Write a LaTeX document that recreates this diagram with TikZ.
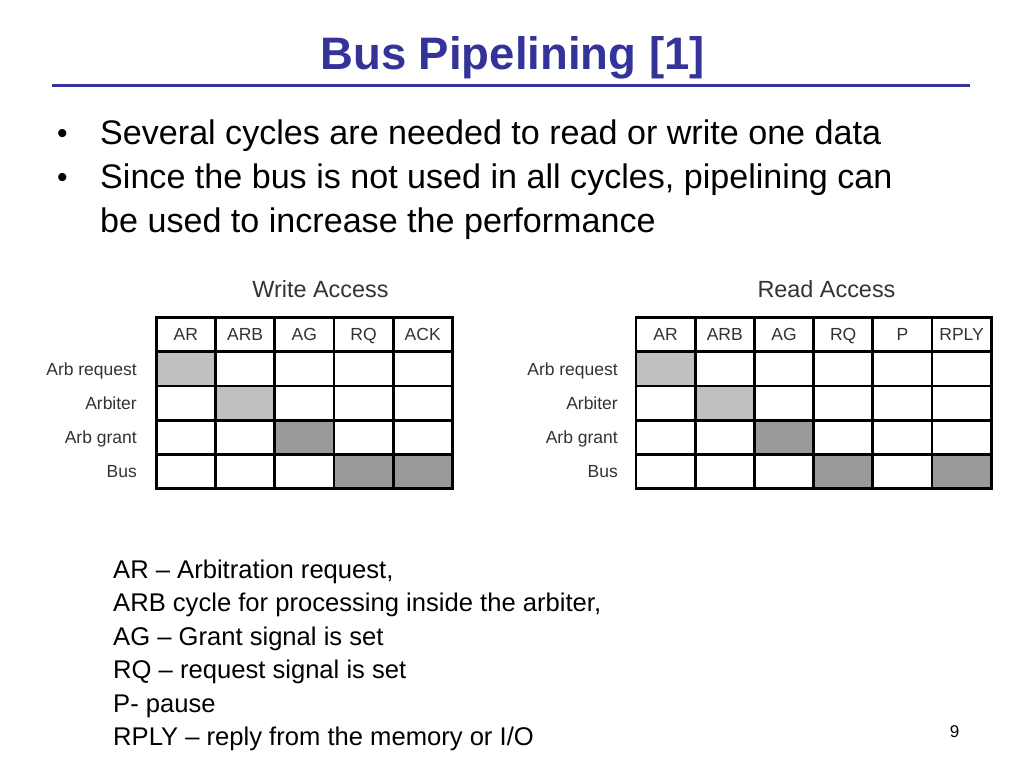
\documentclass[tikz,border=0pt]{standalone}
\usepackage{fontspec}
\setmainfont{Liberation Sans}
\definecolor{titleblue}{HTML}{333399}
\definecolor{lightc}{HTML}{C0C0C0}
\definecolor{darkc}{HTML}{999999}
\definecolor{tabtext}{HTML}{333333}
\begin{document}
\begin{tikzpicture}[x=1pt,y=-1pt,
  cell/.style={draw=black, line width=2.8pt, minimum width=59.2pt, minimum height=34.2pt,
    inner sep=0pt, outer sep=0pt, text height=12.6pt, text depth=0pt,
    font=\fontsize{17.5}{20}\selectfont, text=tabtext},
  rowlab/.style={anchor=base east, inner sep=0pt, font=\fontsize{17.5}{20}\selectfont, text=tabtext},
  tabtitle/.style={anchor=base, inner sep=0pt, font=\fontsize{23.4}{26}\selectfont, text=tabtext},
  bullettxt/.style={anchor=base west, inner sep=0pt, font=\fontsize{34.1}{40}\selectfont},
  legend/.style={anchor=base west, inner sep=0pt, font=\fontsize{25.6}{30}\selectfont},
  titletxt/.style={anchor=base, inner sep=0pt, text=titleblue, font=\fontsize{45.5}{50}\selectfont\bfseries}]
\useasboundingbox[fill=white] (0,0) rectangle (1024,768);

% title
\node[titletxt] (title) at (512.5,70) {Bus Pipelining [1]};
\coordinate (tl) at (52,85.7);
\coordinate (tr) at (970,85.7);
\draw[titleblue, line width=3pt] (tl) -- (tr);

% bullets
\node[bullettxt, font=\fontsize{30}{36}\selectfont] (d1) at (57,143) {•};
\node[bullettxt] (b1) at (100,144) {Several cycles are needed to read or write one data};
\node[bullettxt, font=\fontsize{30}{36}\selectfont] (d2) at (57,187) {•};
\node[bullettxt] (b2) at (100,188) {Since the bus is not used in all cycles, pipelining can};
\node[bullettxt] (b3) at (100,232) {be used to increase the performance};

% write access table
\node[tabtitle] (wt) at (320.5,297) {Write Access};
\foreach \t [count=\c] in {AR,ARB,AG,RQ,ACK}
  \node[cell, fill=white] (wh\c) at ({156.3+(\c-0.5)*59.2},334.6) {\t};
\foreach \r/\fl in {1/{lightc,white,white,white,white},2/{white,lightc,white,white,white},3/{white,white,darkc,white,white},4/{white,white,white,darkc,darkc}}{
  \foreach \f [count=\c] in \fl {
    \node[cell, fill=\f] (w\r\c) at ({156.3+(\c-0.5)*59.2},{334.6+\r*34.2}) {};
  }
}
\foreach \t [count=\r] in {Arb request,Arbiter,Arb grant,Bus}
  \node[rowlab] (wl\r) at (137,{334.6+\r*34.2+6.3}) {\t};

% read access table
\node[tabtitle] (rt) at (826.5,297) {Read Access};
\foreach \t [count=\c] in {AR,ARB,AG,RQ,P,RPLY}
  \node[cell, fill=white] (rh\c) at ({636+(\c-0.5)*59.2},334.6) {\t};
\foreach \r/\fl in {1/{lightc,white,white,white,white,white},2/{white,lightc,white,white,white,white},3/{white,white,darkc,white,white,white},4/{white,white,white,darkc,white,darkc}}{
  \foreach \f [count=\c] in \fl {
    \node[cell, fill=\f] (r\r\c) at ({636+(\c-0.5)*59.2},{334.6+\r*34.2}) {};
  }
}
\foreach \t [count=\r] in {Arb request,Arbiter,Arb grant,Bus}
  \node[rowlab] (rl\r) at (618,{334.6+\r*34.2+6.3}) {\t};

% legend
\node[legend] (l1) at (113,578) {AR – Arbitration request,};
\node[legend] (l2) at (113,611.5) {ARB cycle for processing inside the arbiter,};
\node[legend] (l3) at (113,645) {AG – Grant signal is set};
\node[legend] (l4) at (113,678.5) {RQ – request signal is set};
\node[legend] (l5) at (113,712) {P- pause};
\node[legend] (l6) at (113,745) {RPLY – reply from the memory or I/O};

% page number
\node[anchor=base, inner sep=0pt, font=\fontsize{17}{20}\selectfont] (pg) at (954.5,737) {9};
\end{tikzpicture}
\end{document}
